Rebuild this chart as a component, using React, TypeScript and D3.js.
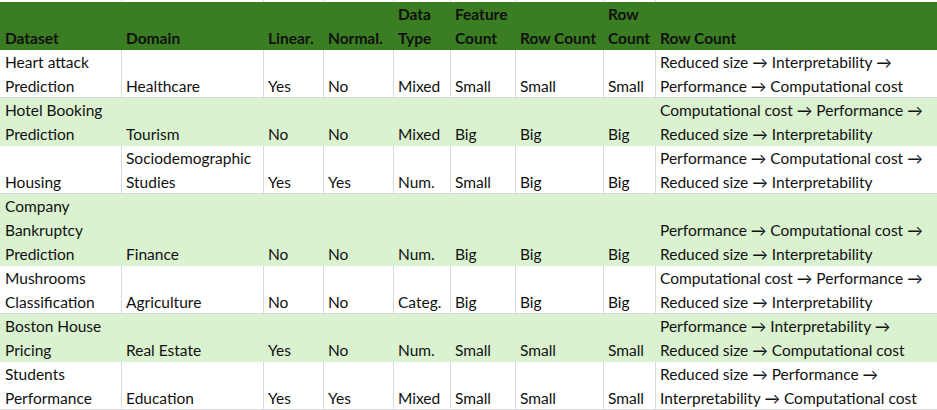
import React from "react";
import * as d3 from "d3";

const headers = [["Dataset"], ["Domain"], ["Linear."], ["Normal."], ["Data", "Type"], ["Feature", "Count"], ["Row Count"], ["Row", "Count"], ["Row Count"]];
const colEdges = [0, 121, 263, 323, 393, 450, 515, 603, 655, 937];

const rows: string[][][] = [
  [["Heart attack", "Prediction"], ["Healthcare"], ["Yes"], ["No"], ["Mixed"], ["Small"], ["Small"], ["Small"], ["Reduced size → Interpretability →", "Performance → Computational cost"]],
  [["Hotel Booking", "Prediction"], ["Tourism"], ["No"], ["No"], ["Mixed"], ["Big"], ["Big"], ["Big"], ["Computational cost → Performance →", "Reduced size → Interpretability"]],
  [["Housing"], ["Sociodemographic", "Studies"], ["Yes"], ["Yes"], ["Num."], ["Small"], ["Big"], ["Big"], ["Performance → Computational cost →", "Reduced size → Interpretability"]],
  [["Company", "Bankruptcy", "Prediction"], ["Finance"], ["No"], ["No"], ["Num."], ["Big"], ["Big"], ["Big"], ["Performance → Computational cost →", "Reduced size → Interpretability"]],
  [["Mushrooms", "Classification"], ["Agriculture"], ["No"], ["No"], ["Categ."], ["Big"], ["Big"], ["Big"], ["Computational cost → Performance →", "Reduced size → Interpretability"]],
  [["Boston House", "Pricing"], ["Real Estate"], ["Yes"], ["No"], ["Num."], ["Small"], ["Small"], ["Small"], ["Performance → Interpretability →", "Reduced size → Computational cost"]],
  [["Students", "Performance"], ["Education"], ["Yes"], ["Yes"], ["Mixed"], ["Small"], ["Small"], ["Small"], ["Reduced size → Performance →", "Interpretability → Computational cost"]],
];

const LINE = 24;
const TOP = 2;

export default function App() {
  const lineCounts = rows.map((r) => Math.max(...r.map((c) => c.length)));
  const tops: number[] = [];
  let y = TOP + 2 * LINE;
  lineCounts.forEach((n) => { tops.push(y); y += n * LINE; });
  const x = d3.scaleLinear().domain([0, 937]).range([0, 937]);

  const cell = (lines: string[], ci: number, top: number, total: number, bold: boolean, key: string) => {
    const offset = total - lines.length;
    return lines.map((t, li) => (
      <text key={key + li} x={x(colEdges[ci]) + 5} y={top + (offset + li) * LINE + 18}
        fontWeight={bold ? 700 : 400} fill="#111">{t}</text>
    ));
  };

  return (
    <svg width={937} height={410} style={{ position: "absolute", left: 0, top: 0 }}
      fontFamily="Lato, 'Open Sans', sans-serif" fontSize={15.5}>
      <rect width={937} height={410} fill="#fff" />
      {colEdges.slice(1, -1).map((e) => (
        <line key={"v" + e} x1={x(e) + 0.5} x2={x(e) + 0.5} y1={0} y2={410} stroke="#d9d9d9" />
      ))}
      {rows.map((r, i) => (
        <g key={"r" + i}>
          {i % 2 === 1 && <rect x={0} y={tops[i]} width={937} height={lineCounts[i] * LINE} fill="#daf2d0" />}
          {i % 2 === 0 && <line x1={0} x2={937} y1={tops[i] + lineCounts[i] * LINE - 0.5} y2={tops[i] + lineCounts[i] * LINE - 0.5} stroke="#d9d9d9" />}
        </g>
      ))}
      <rect x={0} y={TOP} width={937} height={2 * LINE} fill="#3a7d22" />
      {headers.map((h, ci) => cell(h, ci, TOP, 2, true, "h" + ci))}
      {rows.map((r, i) => r.map((c, ci) => cell(c, ci, tops[i], lineCounts[i], false, `c${i}-${ci}`)))}
    </svg>
  );
}
